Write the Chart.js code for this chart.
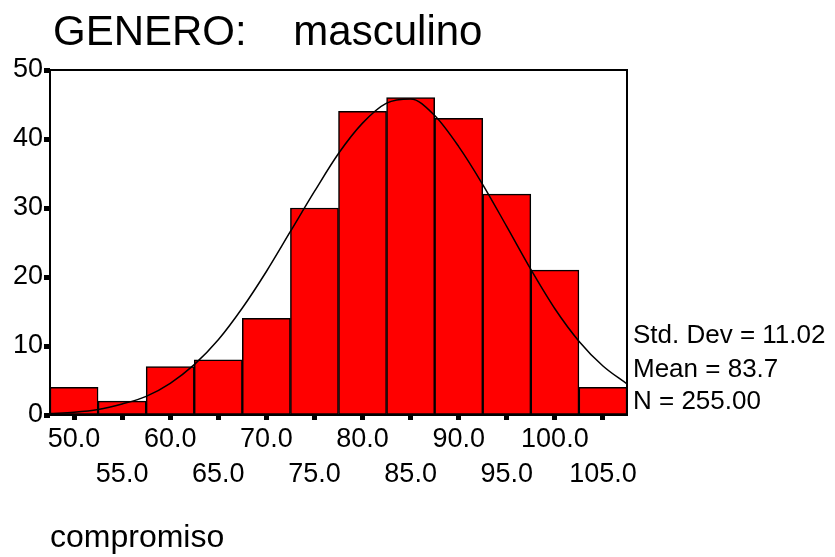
<!DOCTYPE html>
<html>
<head>
<meta charset="utf-8">
<title>GENERO: masculino - compromiso</title>
<script src="https://cdn.jsdelivr.net/npm/chart.js@4"></script>
<style>
  html, body { margin: 0; padding: 0; background: #fff; }
  #wrap { width: 835px; height: 557px; position: relative; }
</style>
</head>
<body>
<div id="wrap"><canvas id="histChart"></canvas></div>
<script>
// histogram bins (bin centres, width 5) and their counts
const binCenters = [50, 55, 60, 65, 70, 75, 80, 85, 90, 95, 100, 105];
const counts = [4, 2, 7, 8, 14, 30, 44, 46, 43, 32, 21, 4];
const tickLabels = ['50.0', '55.0', '60.0', '65.0', '70.0', '75.0', '80.0', '85.0', '90.0', '95.0', '100.0', '105.0'];

// normal curve
const curveX = [47.5, 50, 52.5, 55, 57.5, 60, 62.5, 65, 67.5, 70, 72.5, 75, 77.5, 80, 82.5, 85, 87.5, 90, 92.5, 95, 97.5, 100, 102.5, 105, 107.5];
const curveY = [0.2, 0.4, 0.8, 1.6, 2.7, 4.6, 7.3, 10.9, 15.5, 20.8, 26.6, 32.4, 37.9, 42.3, 45.2, 45.8, 43.4, 38.9, 33.4, 27.3, 21.1, 15.4, 10.7, 7.1, 4.5];

const yTicks = [0, 10, 20, 30, 40, 50];
const titleText = 'GENERO:    masculino';
const axisTitle = 'compromiso';
const statsLines = ['Std. Dev = 11.02', 'Mean = 83.7', 'N = 255.00'];

const FONT = '"Liberation Sans", Arial, sans-serif';
Chart.defaults.font.family = FONT;
Chart.defaults.color = '#000';

// frame, title and the stats block
const decorPlugin = {
    id: 'decor',
    afterDraw(chart) {
        const { ctx, chartArea } = chart;
        ctx.save();
        ctx.strokeStyle = '#000';
        ctx.lineWidth = 2;
        ctx.strokeRect(chartArea.left, chartArea.top, chartArea.right - chartArea.left, chartArea.bottom - chartArea.top);

        ctx.fillStyle = '#000';
        ctx.textAlign = 'left';
        ctx.textBaseline = 'alphabetic';
        ctx.font = '42px ' + FONT;
        ctx.fillText(titleText, 53, 45);

        ctx.font = '26px ' + FONT;
        ctx.textBaseline = 'middle';
        const x = chartArea.right + 6;
        const offsets = [79, 45, 13];
        statsLines.forEach((line, i) => {
            ctx.fillText(line, x, chartArea.bottom - offsets[i]);
        });
        ctx.restore();
    }
};

const ctx = document.getElementById('histChart').getContext('2d');
const histChart = new Chart(ctx, {
    type: 'bar',
    data: {
        datasets: [{
            type: 'line',
            data: curveX.map((x, i) => ({ x: x, y: curveY[i] })),
            borderColor: '#000',
            borderWidth: 1.5,
            pointRadius: 0,
            cubicInterpolationMode: 'monotone',
            fill: false,
            order: 0
        }, {
            type: 'bar',
            data: binCenters.map((x, i) => ({ x: x, y: counts[i] })),
            backgroundColor: '#ff0000',
            borderColor: '#000',
            borderWidth: 1.5,
            borderSkipped: false,
            barPercentage: 1,
            categoryPercentage: 1,
            order: 1
        }]
    },
    options: {
        responsive: true,
        maintainAspectRatio: false,
        animation: false,
        layout: { padding: { top: 70, right: 208, left: 0, bottom: 0 } },
        plugins: {
            legend: { display: false },
            tooltip: { enabled: false },
            title: { display: false }
        },
        scales: {
            x: {
                type: 'linear',
                offset: false,
                min: 47.5,
                max: 107.5,
                afterBuildTicks(scale) {
                    scale.ticks = binCenters.map(v => ({ value: v }));
                },
                afterFit(scale) { scale.height = 142; },
                grid: { offset: false, drawOnChartArea: false, drawTicks: true, tickLength: 5, tickWidth: 5, tickColor: '#000' },
                border: { display: false },
                ticks: {
                    autoSkip: false,
                    maxRotation: 0,
                    padding: 2,
                    font: { size: 27, lineHeight: 1.3 },
                    callback: function(value) {
                        const i = binCenters.indexOf(value);
                        if (i < 0) return '';
                        return i % 2 === 0 ? [tickLabels[i], ''] : ['', tickLabels[i]];
                    }
                },
                title: {
                    display: true,
                    text: axisTitle,
                    align: 'start',
                    font: { size: 32 },
                    padding: { top: 0, bottom: 0 }
                }
            },
            y: {
                min: 0,
                max: 50,
                afterBuildTicks(scale) {
                    scale.ticks = yTicks.map(v => ({ value: v }));
                },
                afterFit(scale) { scale.width = 50; },
                grid: { drawOnChartArea: false, drawTicks: true, tickLength: 6, tickWidth: 5, tickColor: '#000' },
                border: { display: false },
                ticks: {
                    padding: 1,
                    font: { size: 27 }
                }
            }
        }
    },
    plugins: [decorPlugin]
});
</script>
</body>
</html>
